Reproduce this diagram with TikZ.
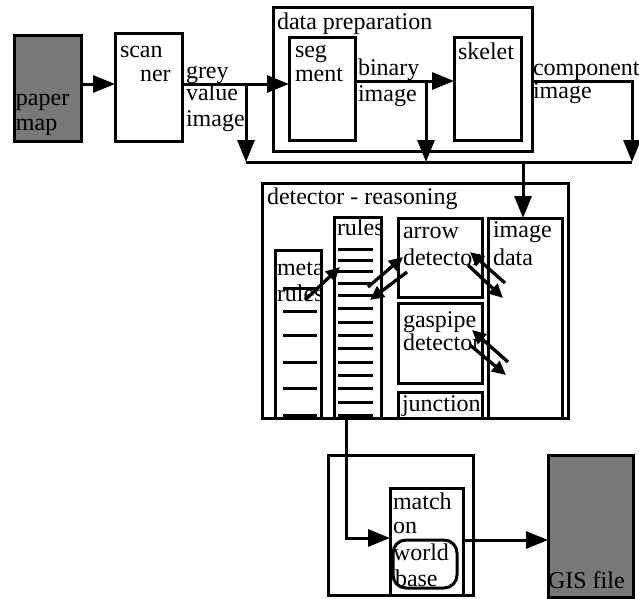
\documentclass[tikz,border=0pt]{standalone}
\usepackage{fontspec}
\setmainfont{Liberation Serif}
\usetikzlibrary{arrows.meta}
\definecolor{mapgray}{RGB}{120,120,120}
\begin{document}
\begin{tikzpicture}[x=1pt,y=-1pt,
  box/.style={draw, line width=3pt, rectangle, inner sep=0pt, outer sep=0pt, anchor=north west},
  txt/.style={anchor=base west, inner sep=0pt, outer sep=0pt, font=\fontsize{24}{25}\selectfont},
  conn/.style={line width=3pt},
  arr/.style={conn, -{Triangle[length=22pt,width=17pt]}},
  sarr/.style={line width=3.3pt, -{Triangle[length=14pt,width=13pt]}},
  tick/.style={line width=3pt}]
\useasboundingbox (0,0) rectangle (639,598);

% boxes
\node[box, fill=mapgray, minimum width=67pt, minimum height=106pt] (paper) at (14,35) {};
\node[box, minimum width=67pt, minimum height=108pt] (scanner) at (115,33) {};
\node[box, minimum width=259pt, minimum height=144pt] (dataprep) at (273,7) {};
\node[box, minimum width=66pt, minimum height=103pt] (segment) at (289,37) {};
\node[box, minimum width=67pt, minimum height=103pt] (skelet) at (454,37) {};
\node[box, minimum width=306pt, minimum height=235pt] (detector) at (262,183) {};
\node[box, minimum width=46pt, minimum height=168pt] (meta) at (275,250) {};
\node[box, minimum width=47pt, minimum height=201pt] (rules) at (334,217) {};
\node[box, minimum width=84pt, minimum height=79pt] (arrowdet) at (398,218) {};
\node[box, minimum width=84pt, minimum height=80pt] (gasdet) at (398,303) {};
\node[box, minimum width=84pt, minimum height=26pt] (junction) at (398,392) {};
\node[box, minimum width=74pt, minimum height=200pt] (imagedata) at (488,218) {};
\node[box, minimum width=145pt, minimum height=140pt] (matchouter) at (328,455) {};
\node[box, minimum width=73pt, minimum height=107pt] (match) at (390,488) {};
\node[box, rounded corners=13pt, minimum width=64pt, minimum height=48pt] (world) at (393,540) {};
\node[box, fill=mapgray, minimum width=85pt, minimum height=142pt] (gis) at (548,455) {};

% rule ticks
\foreach \yy in {288,311,335,362,388,415} \draw[tick] (283,\yy) -- (317,\yy);
\foreach \yy in {249,260,271,283,295,308,322,335,348,362,375,388,402,415} \draw[tick] (338,\yy) -- (373,\yy);

% texts
\node[txt] (t1) at (16,105) {paper};
\node[txt] (t2) at (16,130) {map};
\node[txt] (t3) at (120,57) {scan};
\node[txt] (t4) at (140,81) {ner};
\node[txt] (t5) at (186,78) {grey};
\node[txt] (t6) at (186,100) {value};
\node[txt] (t7) at (186,126) {image};
\node[txt] (t8) at (277,29) {data preparation};
\node[txt] (t9) at (295,57) {seg};
\node[txt] (t10) at (295,81) {ment};
\node[txt] (t11) at (358,75) {binary};
\node[txt] (t12) at (358,101) {image};
\node[txt] (t13) at (458,59) {skelet};
\node[txt] (t14) at (533,75) {component};
\node[txt] (t15) at (533,98) {image};
\node[txt] (t16) at (267,204) {detector - reasoning};
\node[txt] (t17) at (337,235) {rules};
\node[txt] (t18) at (277,275) {meta};
\node[txt] (t19) at (277,301) {rules};
\node[txt] (t20) at (403,238) {arrow};
\node[txt] (t21) at (403,265) {detector};
\node[txt] (t22) at (493,237) {image};
\node[txt] (t23) at (493,265) {data};
\node[txt] (t24) at (403,327) {gaspipe};
\node[txt] (t25) at (403,350) {detector};
\node[txt] (t26) at (402,411) {junction};
\node[txt] (t27) at (393,509) {match};
\node[txt] (t28) at (393,533) {on};
\node[txt] (t29) at (393,560) {world};
\node[txt] (t30) at (395,586) {base};
\node[txt] (t31) at (548,588) {GIS file};

% connectors
\coordinate (b0) at (98,84);
\draw[arr] (paper.east |- b0) -- (scanner.west |- b0);
\coordinate (b1) at (246,84);
\coordinate (busL) at (246,162);
\coordinate (busR) at (632,162);
\draw[conn] (busL) -- (busR);
\draw[arr] (scanner.east |- b1) -- (segment.west |- b1);
\draw[arr] (b1) -- (busL);
\coordinate (b2) at (426,81);
\draw[arr] (segment.east |- b2) -- (skelet.west |- b2);
\draw[arr] (b2) -- (b2 |- busL);
\coordinate (b3) at (632,81);
\draw[arr] (dataprep.east |- b3) -- (b3) -- (busR);
\coordinate (b4) at (523,162);
\draw[arr] (b4) -- (b4 |- imagedata.north);
\coordinate (b5) at (346,538);
\draw[arr] (b5 |- rules.south) -- (b5) -- (match.west |- b5);
\coordinate (b6) at (500,540);
\draw[arr] (match.east |- b6) -- (gis.west |- b6);

% diagonal arrows
\coordinate (d1) at (305,300); \coordinate (d2) at (340,267);
\draw[sarr] (d1) -- (d2);
\coordinate (d3) at (368,287); \coordinate (d4) at (403,257);
\draw[sarr] (d3) -- (d4);
\coordinate (d5) at (407,272); \coordinate (d6) at (370,300);
\draw[sarr] (d5) -- (d6);
\coordinate (d7) at (505,283); \coordinate (d8) at (470,252);
\draw[sarr] (d7) -- (d8);
\coordinate (d9) at (468,265); \coordinate (d10) at (503,298);
\draw[sarr] (d9) -- (d10);
\coordinate (d11) at (508,362); \coordinate (d12) at (472,330);
\draw[sarr] (d11) -- (d12);
\coordinate (d13) at (470,345); \coordinate (d14) at (506,375);
\draw[sarr] (d13) -- (d14);
\end{tikzpicture}
\end{document}
